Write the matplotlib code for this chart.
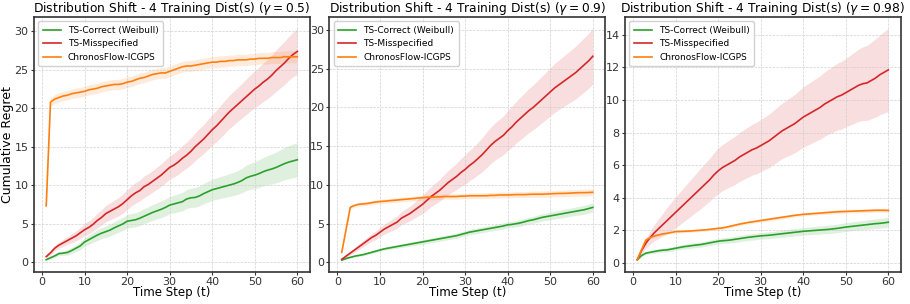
import matplotlib
matplotlib.use("Agg")
import matplotlib.pyplot as plt
import numpy as np

steps = list(range(1, 61))
gammas = ["0.5", "0.9", "0.98"]
labels = ["TS-Correct (Weibull)", "TS-Misspecified", "ChronosFlow-ICGPS"]
colors = ["#2ca02c", "#d62728", "#ff7f0e"]

# gamma = 0.5
correct_05 = [0.3, 0.55, 0.8, 1.1, 1.15, 1.25, 1.5, 1.8, 2.1, 2.6,
              2.9, 3.2, 3.5, 3.75, 3.95, 4.15, 4.45, 4.7, 4.95, 5.3,
              5.4, 5.5, 5.7, 5.95, 6.2, 6.45, 6.65, 6.85, 7.1, 7.4,
              7.55, 7.7, 7.85, 8.2, 8.35, 8.4, 8.6, 8.9, 9.15, 9.4,
              9.55, 9.7, 9.85, 10.0, 10.15, 10.35, 10.6, 10.95, 11.15, 11.3,
              11.5, 11.75, 11.95, 12.1, 12.3, 12.55, 12.8, 13.0, 13.15, 13.3]
correct_05_sd = [0.1, 0.15, 0.2, 0.25, 0.3, 0.35, 0.4, 0.45, 0.5, 0.55,
                 0.6, 0.65, 0.7, 0.72, 0.75, 0.78, 0.8, 0.82, 0.85, 0.88,
                 0.9, 0.92, 0.95, 0.98, 1.0, 1.02, 1.05, 1.08, 1.1, 1.12,
                 1.15, 1.18, 1.2, 1.22, 1.25, 1.28, 1.3, 1.32, 1.35, 1.38,
                 1.4, 1.42, 1.45, 1.48, 1.5, 1.55, 1.6, 1.65, 1.7, 1.75,
                 1.8, 1.85, 1.9, 1.95, 2.0, 2.05, 2.1, 2.15, 2.2, 2.2]
miss_05 = [0.7, 1.2, 1.8, 2.2, 2.5, 2.8, 3.1, 3.4, 3.8, 4.2,
           4.5, 4.9, 5.4, 5.8, 6.3, 6.6, 6.9, 7.2, 7.6, 8.1,
           8.6, 9.0, 9.3, 9.8, 10.1, 10.5, 10.9, 11.3, 11.8, 12.3,
           12.6, 13.0, 13.5, 13.9, 14.4, 15.0, 15.5, 16.0, 16.6, 17.2,
           17.7, 18.3, 18.9, 19.5, 20.0, 20.5, 21.0, 21.5, 22.0, 22.5,
           22.9, 23.4, 23.8, 24.3, 24.9, 25.4, 25.9, 26.5, 27.0, 27.4]
miss_05_sd = [0.2, 0.3, 0.35, 0.4, 0.45, 0.5, 0.6, 0.65, 0.7, 0.8,
              0.85, 0.9, 0.95, 1.0, 1.05, 1.1, 1.15, 1.2, 1.25, 1.3,
              1.3, 1.35, 1.35, 1.4, 1.4, 1.4, 1.45, 1.45, 1.5, 1.5,
              1.55, 1.6, 1.65, 1.7, 1.75, 1.8, 1.85, 1.9, 1.95, 2.0,
              2.05, 2.1, 2.15, 2.15, 2.2, 2.2, 2.25, 2.3, 2.35, 2.4,
              2.45, 2.5, 2.55, 2.6, 2.7, 2.75, 2.8, 2.85, 2.9, 3.0]
chronos_05 = [7.3, 20.8, 21.2, 21.4, 21.6, 21.7, 21.9, 22.0, 22.1, 22.2,
              22.4, 22.5, 22.6, 22.8, 22.9, 23.0, 23.1, 23.1, 23.2, 23.4,
              23.5, 23.7, 23.9, 24.0, 24.2, 24.4, 24.5, 24.6, 24.6, 24.8,
              25.0, 25.2, 25.4, 25.5, 25.5, 25.6, 25.7, 25.8, 25.9, 26.0,
              26.0, 26.1, 26.1, 26.2, 26.2, 26.3, 26.3, 26.3, 26.4, 26.4,
              26.5, 26.5, 26.5, 26.6, 26.6, 26.6, 26.7, 26.7, 26.7, 26.7]
chronos_05_sd = [0.1, 0.55, 0.6, 0.6, 0.6, 0.62, 0.62, 0.64, 0.64, 0.65,
                 0.65, 0.65, 0.66, 0.66, 0.66, 0.67, 0.67, 0.67, 0.68, 0.68,
                 0.68, 0.68, 0.69, 0.69, 0.69, 0.7, 0.7, 0.7, 0.7, 0.7,
                 0.7, 0.7, 0.71, 0.71, 0.71, 0.71, 0.72, 0.72, 0.72, 0.72,
                 0.73, 0.73, 0.73, 0.73, 0.74, 0.74, 0.74, 0.74, 0.75, 0.75,
                 0.75, 0.76, 0.76, 0.76, 0.77, 0.77, 0.78, 0.78, 0.79, 0.8]

# gamma = 0.9
correct_09 = [0.3, 0.5, 0.65, 0.8, 0.9, 1.0, 1.15, 1.3, 1.45, 1.6,
              1.75, 1.85, 1.95, 2.05, 2.15, 2.25, 2.35, 2.45, 2.55, 2.65,
              2.75, 2.85, 2.95, 3.05, 3.15, 3.25, 3.35, 3.45, 3.6, 3.75,
              3.9, 4.0, 4.1, 4.2, 4.3, 4.4, 4.5, 4.6, 4.7, 4.85,
              4.9, 5.0, 5.1, 5.25, 5.4, 5.5, 5.65, 5.8, 5.9, 6.0,
              6.1, 6.2, 6.3, 6.4, 6.5, 6.6, 6.7, 6.8, 6.95, 7.1]
correct_09_sd = [0.05, 0.08, 0.1, 0.12, 0.14, 0.15, 0.16, 0.17, 0.18, 0.19,
                 0.2, 0.21, 0.22, 0.23, 0.24, 0.25, 0.26, 0.27, 0.28, 0.29,
                 0.3, 0.3, 0.31, 0.31, 0.32, 0.32, 0.33, 0.33, 0.34, 0.34,
                 0.35, 0.35, 0.36, 0.36, 0.37, 0.37, 0.38, 0.38, 0.39, 0.39,
                 0.4, 0.41, 0.42, 0.43, 0.44, 0.45, 0.46, 0.47, 0.48, 0.49,
                 0.5, 0.51, 0.52, 0.53, 0.54, 0.55, 0.56, 0.57, 0.58, 0.6]
miss_09 = [0.4, 0.8, 1.2, 1.6, 2.0, 2.4, 2.8, 3.2, 3.5, 3.9,
           4.3, 4.6, 4.9, 5.2, 5.7, 6.0, 6.3, 6.7, 7.1, 7.5,
           8.0, 8.5, 8.9, 9.3, 9.8, 10.3, 10.7, 11.1, 11.6, 12.0,
           12.5, 12.9, 13.4, 13.9, 14.5, 15.1, 15.6, 16.0, 16.4, 17.0,
           17.5, 18.1, 18.6, 19.1, 19.6, 20.0, 20.5, 21.0, 21.5, 22.0,
           22.5, 22.9, 23.3, 23.7, 24.1, 24.5, 25.0, 25.5, 26.0, 26.6]
miss_09_sd = [0.15, 0.2, 0.25, 0.3, 0.35, 0.4, 0.45, 0.5, 0.55, 0.6,
              0.65, 0.7, 0.75, 0.8, 0.85, 0.9, 0.95, 1.0, 1.1, 1.2,
              1.25, 1.3, 1.35, 1.4, 1.5, 1.55, 1.6, 1.7, 1.8, 1.9,
              1.95, 2.0, 2.1, 2.2, 2.3, 2.35, 2.4, 2.45, 2.5, 2.6,
              2.65, 2.7, 2.75, 2.8, 2.85, 2.9, 2.95, 3.0, 3.05, 3.1,
              3.15, 3.2, 3.25, 3.3, 3.35, 3.4, 3.45, 3.5, 3.55, 3.6]
chronos_09 = [1.3, 4.2, 7.1, 7.35, 7.5, 7.55, 7.6, 7.7, 7.8, 7.85,
              7.9, 7.95, 8.0, 8.05, 8.1, 8.15, 8.2, 8.25, 8.3, 8.35,
              8.4, 8.4, 8.45, 8.45, 8.5, 8.5, 8.5, 8.5, 8.55, 8.55,
              8.6, 8.6, 8.6, 8.6, 8.6, 8.65, 8.65, 8.7, 8.7, 8.7,
              8.72, 8.75, 8.75, 8.75, 8.78, 8.8, 8.8, 8.8, 8.82, 8.85,
              8.88, 8.9, 8.9, 8.92, 8.95, 8.98, 9.0, 9.0, 9.02, 9.05]
chronos_09_sd = [0.05, 0.15, 0.2, 0.22, 0.24, 0.25, 0.26, 0.27, 0.28, 0.28,
                 0.29, 0.29, 0.3, 0.3, 0.3, 0.31, 0.31, 0.31, 0.32, 0.32,
                 0.32, 0.33, 0.33, 0.33, 0.34, 0.34, 0.34, 0.35, 0.35, 0.35,
                 0.36, 0.36, 0.36, 0.37, 0.37, 0.37, 0.38, 0.38, 0.38, 0.39,
                 0.39, 0.39, 0.4, 0.4, 0.4, 0.41, 0.41, 0.41, 0.42, 0.42,
                 0.42, 0.43, 0.43, 0.43, 0.44, 0.44, 0.44, 0.45, 0.45, 0.45]

# gamma = 0.98
correct_098 = [0.2, 0.45, 0.6, 0.65, 0.7, 0.75, 0.78, 0.8, 0.85, 0.9,
               0.95, 1.0, 1.03, 1.07, 1.1, 1.13, 1.18, 1.23, 1.28, 1.33,
               1.36, 1.38, 1.41, 1.45, 1.49, 1.53, 1.57, 1.6, 1.63, 1.66,
               1.68, 1.7, 1.73, 1.76, 1.79, 1.82, 1.85, 1.88, 1.91, 1.94,
               1.96, 1.98, 2.0, 2.02, 2.04, 2.06, 2.09, 2.12, 2.16, 2.2,
               2.23, 2.26, 2.29, 2.32, 2.35, 2.38, 2.41, 2.43, 2.46, 2.5]
correct_098_sd = [0.03, 0.06, 0.08, 0.1, 0.11, 0.12, 0.12, 0.13, 0.13, 0.14,
                  0.14, 0.15, 0.15, 0.15, 0.16, 0.16, 0.16, 0.17, 0.17, 0.17,
                  0.18, 0.18, 0.18, 0.19, 0.19, 0.19, 0.2, 0.2, 0.2, 0.2,
                  0.21, 0.21, 0.21, 0.22, 0.22, 0.22, 0.23, 0.23, 0.23, 0.24,
                  0.24, 0.24, 0.25, 0.25, 0.25, 0.26, 0.26, 0.26, 0.27, 0.27,
                  0.27, 0.28, 0.28, 0.28, 0.29, 0.29, 0.29, 0.3, 0.3, 0.3]
miss_098 = [0.2, 0.75, 1.2, 1.55, 1.85, 2.1, 2.35, 2.6, 2.85, 3.1,
            3.35, 3.6, 3.85, 4.1, 4.35, 4.6, 4.85, 5.1, 5.4, 5.65,
            5.85, 6.0, 6.15, 6.3, 6.5, 6.65, 6.8, 6.95, 7.05, 7.2,
            7.35, 7.5, 7.7, 7.9, 8.1, 8.25, 8.4, 8.55, 8.75, 8.95,
            9.1, 9.25, 9.4, 9.55, 9.75, 9.9, 10.05, 10.2, 10.3, 10.45,
            10.6, 10.75, 10.9, 11.0, 11.05, 11.2, 11.35, 11.55, 11.7, 11.85]
miss_098_sd = [0.05, 0.2, 0.3, 0.4, 0.5, 0.6, 0.7, 0.8, 0.88, 0.95,
               1.0, 1.05, 1.1, 1.15, 1.2, 1.25, 1.28, 1.32, 1.36, 1.4,
               1.42, 1.44, 1.46, 1.48, 1.5, 1.52, 1.54, 1.56, 1.58, 1.6,
               1.62, 1.64, 1.66, 1.68, 1.7, 1.73, 1.76, 1.79, 1.82, 1.85,
               1.87, 1.9, 1.92, 1.95, 1.97, 2.0, 2.03, 2.05, 2.08, 2.1,
               2.14, 2.18, 2.22, 2.26, 2.3, 2.35, 2.4, 2.45, 2.5, 2.55]
chronos_098 = [0.2, 0.8, 1.4, 1.55, 1.65, 1.72, 1.78, 1.82, 1.87, 1.92,
               1.93, 1.94, 1.95, 1.97, 1.99, 2.01, 2.03, 2.06, 2.09, 2.12,
               2.15, 2.2, 2.26, 2.32, 2.38, 2.43, 2.48, 2.52, 2.56, 2.6,
               2.64, 2.68, 2.72, 2.76, 2.8, 2.84, 2.88, 2.92, 2.95, 2.98,
               3.0, 3.02, 3.04, 3.06, 3.08, 3.1, 3.12, 3.14, 3.15, 3.16,
               3.17, 3.18, 3.19, 3.2, 3.21, 3.22, 3.23, 3.23, 3.23, 3.22]
chronos_098_sd = [0.02, 0.06, 0.08, 0.08, 0.08, 0.08, 0.08, 0.08, 0.08, 0.08,
                  0.08, 0.08, 0.08, 0.08, 0.08, 0.08, 0.08, 0.08, 0.09, 0.09,
                  0.09, 0.09, 0.09, 0.09, 0.09, 0.09, 0.09, 0.09, 0.1, 0.1,
                  0.1, 0.1, 0.1, 0.1, 0.1, 0.1, 0.1, 0.1, 0.1, 0.1,
                  0.1, 0.1, 0.1, 0.1, 0.11, 0.11, 0.11, 0.11, 0.11, 0.11,
                  0.11, 0.11, 0.11, 0.11, 0.12, 0.12, 0.12, 0.12, 0.12, 0.12]

panels = [
    [(correct_05, correct_05_sd), (miss_05, miss_05_sd), (chronos_05, chronos_05_sd)],
    [(correct_09, correct_09_sd), (miss_09, miss_09_sd), (chronos_09, chronos_09_sd)],
    [(correct_098, correct_098_sd), (miss_098, miss_098_sd), (chronos_098, chronos_098_sd)],
]

fig, axes = plt.subplots(1, 3, figsize=(9.1, 3.04), dpi=100)
fig.subplots_adjust(left=0.037, right=0.99, top=0.945, bottom=0.105, wspace=0.07)

for ax, gamma, series in zip(axes, gammas, panels):
    for (mean, sd), lab, col in zip(series, labels, colors):
        m = np.array(mean)
        s = np.array(sd)
        ax.plot(steps, m, color=col, linewidth=1.2, label=lab)
        ax.fill_between(steps, m - s, m + s, color=col, alpha=0.15, linewidth=0)
    ax.set_title(f"Distribution Shift - 4 Training Dist(s) ($\\gamma = {gamma}$)",
                 fontsize=8.8, pad=1)
    ax.set_xlabel("Time Step (t)", fontsize=8.5, labelpad=-1)
    ax.set_xticks([0, 10, 20, 30, 40, 50, 60])
    ax.grid(True, linestyle="--", linewidth=0.5, color="#cccccc", alpha=0.9)
    ax.tick_params(labelsize=8, colors="#333333", length=2.5, pad=1.2)
    for sp in ax.spines.values():
        sp.set_color("#333333")
        sp.set_linewidth(1.2)
    ax.legend(loc="upper left", fontsize=6.5, frameon=True, framealpha=0.9,
              edgecolor="#cccccc", handlelength=2.0, borderpad=0.5)

axes[0].set_ylabel("Cumulative Regret", fontsize=9, labelpad=0)

fig.savefig("out.png", dpi=100)
